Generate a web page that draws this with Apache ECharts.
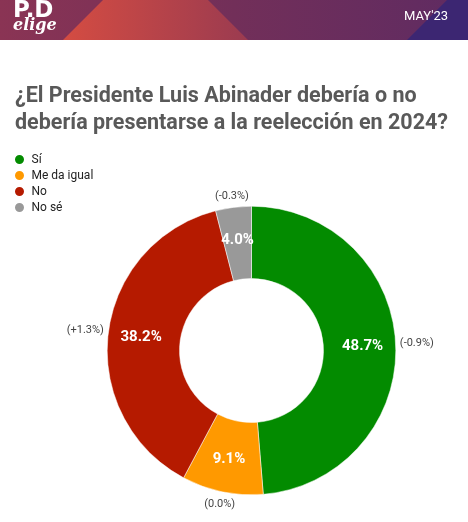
<html>
<head>
<meta charset="utf-8" />
<title>PD elige</title>
<script src="https://cdn.jsdelivr.net/npm/echarts@6/dist/echarts.min.js"></script>
<style>
	html, body { margin: 0; padding: 0; background: #fff; }
	#chart { width: 468px; height: 522px; }
</style>
</head>
<body>
<div id="chart"></div>
<script type="text/javascript">
// data
var categories = ['Sí', 'Me da igual', 'No', 'No sé'];
var shares = [48.7, 9.1, 38.2, 4.0];
var changes = [-0.9, 0.0, 1.3, -0.3];
var colors = ['#038b00', '#ff9900', '#b51a00', '#999999'];

var W = 468, H = 522;
var CX = 251.5, CY = 350.5, R = 144.3, R0 = 72;
var base = Math.min(W, H) / 2;

function fmtChange(v) {
	var s = v.toFixed(1);
	if (v > 0) s = '+' + s;
	return '(' + s + '%)';
}

var total = shares.reduce(function(a, b) { return a + b; }, 0);

// outer labels centred just outside the ring, along each slice's mid angle
function outerLayout(params) {
	var i = params.dataIndex;
	var before = 0;
	for (var k = 0; k < i; k++) before += shares[k];
	var mid = (before + shares[i] / 2) / total;
	var a = Math.PI / 2 - mid * 2 * Math.PI;
	var dx = Math.cos(a), dy = -Math.sin(a);
	var w = params.labelRect.width, h = params.labelRect.height;
	var d = R + 4 + Math.abs(dx) * w / 2 + Math.abs(dy) * h / 2;
	return { x: CX + dx * d, y: CY + dy * d, align: 'center', verticalAlign: 'middle' };
}

var pieData = categories.map(function(c, i) {
	return { name: c, value: shares[i], itemStyle: { color: colors[i] } };
});
var ghostData = categories.map(function(c, i) {
	return { name: c, value: shares[i], change: changes[i] };
});

var myChart = echarts.init(document.getElementById('chart'), null, { renderer: 'canvas' });
var option = {
	backgroundColor: '#ffffff',
	animation: false,
	title: {
		text: '¿El Presidente Luis Abinader debería o no\ndebería presentarse a la reelección en 2024?',
		left: 15,
		top: 83,
		padding: 0,
		textStyle: {
			fontFamily: 'Roboto',
			fontSize: 21.5,
			fontWeight: 'bold',
			color: '#595959',
			lineHeight: 27
		}
	},
	legend: {
		orient: 'vertical',
		left: 13,
		top: 153,
		padding: 0,
		icon: 'circle',
		itemWidth: 14,
		itemHeight: 11,
		itemGap: 3,
		selectedMode: false,
		data: categories,
		textStyle: { fontFamily: 'Roboto', fontSize: 12, color: '#222', lineHeight: 12 }
	},
	graphic: [
		{
			type: 'rect', z: 1,
			shape: { x: 0, y: 0, width: W, height: 40 },
			style: { fill: new echarts.graphic.LinearGradient(0, 0, 1, 0, [
				{ offset: 0, color: '#8a3454' },
				{ offset: 0.5, color: '#722f59' },
				{ offset: 1, color: '#5f2b62' }
			]) }
		},
		{
			type: 'polygon', z: 2,
			shape: { points: [[63, 40], [103, 0], [208, 0], [248, 40]] },
			style: { fill: new echarts.graphic.LinearGradient(0, 0, 1, 0, [
				{ offset: 0, color: '#d44c42' },
				{ offset: 1, color: '#9b3b50' }
			]) }
		},
		{
			type: 'polygon', z: 2,
			shape: { points: [[407, 40], [447, 0], [W, 0], [W, 40]] },
			style: { fill: '#3c2672' }
		},
		{
			type: 'text', z: 3, left: 13, top: 0,
			style: { text: 'P.D', fill: '#fff', font: 'bold 23px "DejaVu Sans"' }
		},
		{
			type: 'text', z: 3, left: 13, top: 18,
			style: { text: 'elige', fill: '#fff', font: 'italic bold 16px "DejaVu Serif"' }
		},
		{
			type: 'text', z: 3, left: 404, top: 10,
			style: { text: "MAY'23", fill: '#fff', font: '13px Roboto' }
		}
	],
	series: [
		{
			type: 'pie',
			center: [CX, CY],
			radius: [(R0 / base * 100) + '%', (R / base * 100) + '%'],
			startAngle: 90,
			clockwise: true,
			silent: true,
			avoidLabelOverlap: false,
			itemStyle: { borderColor: '#fff', borderWidth: 0.5 },
			label: {
				show: true,
				position: 'inside',
				formatter: function(p) { return p.value.toFixed(1) + '%'; },
				color: '#fff',
				fontFamily: 'Roboto',
				fontWeight: 'bold',
				fontSize: 15
			},
			labelLine: { show: false },
			data: pieData
		},
		{
			type: 'pie',
			center: [CX, CY],
			radius: [(R0 / base * 100) + '%', (R / base * 100) + '%'],
			startAngle: 90,
			clockwise: true,
			silent: true,
			avoidLabelOverlap: false,
			legendHoverLink: false,
			itemStyle: { color: 'rgba(0,0,0,0)' },
			label: {
				show: true,
				position: 'outside',
				formatter: function(p) { return fmtChange(p.data.change); },
				color: '#444',
				fontFamily: 'Roboto',
				fontSize: 11
			},
			labelLine: { show: false, length: 0, length2: 0 },
			labelLayout: outerLayout,
			data: ghostData
		}
	]
};
myChart.setOption(option);
</script>
</body>
</html>
